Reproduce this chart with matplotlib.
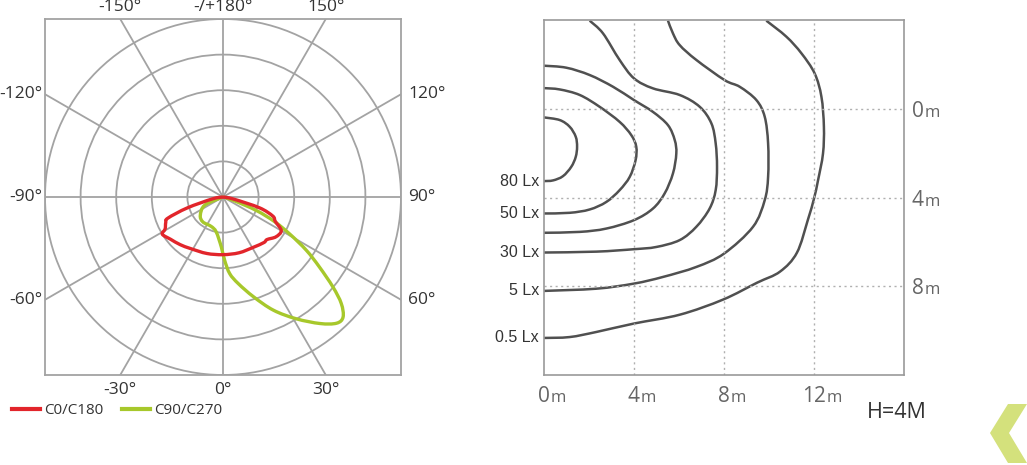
import numpy as np
import matplotlib.pyplot as plt
from matplotlib.patches import Circle, Polygon, PathPatch
from matplotlib.path import Path
from matplotlib.lines import Line2D

plt.rcParams['font.family'] = ['Open Sans', 'DejaVu Sans']

# polar photometric curves: angle in degrees (0 = straight down, + to the right),
# intensity in ring units (rings at 1..5)
c0_angle = [-90, -80, -73, -69, -66, -61, -58.5, -51, -42, -32, -16, 0, 16, 31, 42, 46, 53, 60, 65, 69, 73.5, 79, 90]
c0_r = [0, 0.3, 1.05, 1.66, 1.76, 1.86, 2.0, 1.89, 1.8, 1.71, 1.65, 1.62, 1.63, 1.65, 1.72, 1.72, 1.86, 1.89, 1.62, 1.5, 1.07, 0.3, 0]

c90_angle = [-72, -66, -51, -39, -22, -11, -2, 1.5, 5, 10, 17, 24, 31, 37.5, 42, 45, 48, 50.7, 54, 57.4, 61, 64.5, 68, 72, 90]
c90_r = [0, 0.56, 0.82, 0.90, 0.89, 1.0, 1.40, 1.78, 2.16, 2.47, 2.93, 3.48, 3.99, 4.48, 4.77, 4.77, 4.47, 3.99, 3.35, 2.78, 2.14, 1.6, 1.01, 0.3, 0]

ring_values = [1, 2, 3, 4, 5]
spoke_angles = [0, 30, 60, 90, 120, 150, 180, 210, 240, 270, 300, 330]
spoke_labels = ['0°', '30°', '60°', '90°', '120°', '150°', '-/+180°', '-150°', '-120°', '-90°', '-60°', '-30°']

# isolux lines (metres): x along road, y across
lux_labels = ['80 Lx', '50 Lx', '', '30 Lx', '5 Lx', '0.5 Lx']
iso_x = [
    [0, 0.70, 1.14, 1.41, 1.47, 1.41, 1.21, 0.84, 0.40, 0],
    [0, 0.70, 1.59, 2.47, 3.36, 3.88, 4.10, 4.07, 3.81, 3.36, 2.77, 2.03, 1.14, 0],
    [0, 0.99, 2.03, 3.07, 4.0, 4.84, 5.51, 5.81, 5.88, 5.73, 5.36, 4.84, 4.0, 2.77, 1.59, 0],
    [2.03, 2.62, 3.36, 4.0, 4.84, 6.03, 6.92, 7.44, 7.63, 7.69, 7.63, 7.36, 6.77, 6.03, 4.99, 4.0, 2.33, 0],
    [5.51, 5.73, 6.03, 6.77, 8.03, 8.70, 9.44, 9.81, 9.96, 9.96, 9.81, 9.29, 8.0, 6.77, 5.29, 4.0, 2.33, 0],
    [9.88, 10.77, 11.44, 12.03, 12.33, 12.44, 12.40, 12.18, 12.0, 11.73, 11.24, 10.49, 9.47, 7.96, 6.04, 4.0, 2.33, 1.14, 0],
]
iso_y = [
    [0.39, 0.51, 0.81, 1.26, 1.71, 2.17, 2.62, 3.04, 3.23, 3.26],
    [-0.93, -0.87, -0.62, -0.09, 0.59, 1.19, 1.71, 2.32, 3.07, 3.67, 4.20, 4.54, 4.69, 4.72],
    [-1.94, -1.85, -1.52, -0.99, -0.39, 0.14, 0.74, 1.41, 2.02, 2.92, 3.82, 4.50, 5.02, 5.40, 5.55, 5.59],
    [-3.97, -3.40, -2.20, -1.37, -0.92, -0.62, -0.09, 0.66, 1.56, 2.62, 3.67, 4.50, 5.32, 5.92, 6.23, 6.33, 6.44, 6.48],
    [-3.97, -3.40, -2.87, -2.20, -1.29, -0.99, -0.39, 0.36, 1.56, 3.07, 4.12, 5.32, 6.53, 7.13, 7.58, 7.88, 8.11, 8.21],
    [-3.97, -3.25, -2.50, -1.59, -0.54, 0.81, 2.02, 3.22, 4.05, 5.0, 6.49, 7.34, 7.84, 8.60, 9.28, 9.68, 10.06, 10.29, 10.33],
]
x_ticks = [0, 4, 8, 12]
y_ticks = [0, 4, 8]

red = '#e2252b'
green = '#a7c82b'
grid_gray = '#a3a3a3'
text_dark = '#333333'

W, H = 1027, 465
fig = plt.figure(figsize=(W / 100, H / 100), dpi=100)


def fig_box(x0, y0, x1, y1):
    return [x0 / W, 1 - y1 / H, (x1 - x0) / W, (y1 - y0) / H]


def smooth_path(x, y):
    # bezier curve through the read points (catmull-rom tangents)
    p = np.column_stack([x, y])
    n = len(p)
    verts = [p[0]]
    codes = [Path.MOVETO]
    for i in range(n - 1):
        p0 = p[i - 1] if i > 0 else p[i]
        p3 = p[i + 2] if i + 2 < n else p[i + 1]
        verts += [p[i] + (p[i + 1] - p0) / 6, p[i + 1] - (p3 - p[i]) / 6, p[i + 1]]
        codes += [Path.CURVE4] * 3
    return Path(verts, codes)


# ---- polar diagram ----
ax = fig.add_axes(fig_box(45, 19, 401, 375))
R = 5
ax.set_xlim(-R, R)
ax.set_ylim(-R, R)
ax.set_xticks([])
ax.set_yticks([])
for s in ax.spines.values():
    s.set_color(grid_gray)
    s.set_linewidth(1.3)

for v in ring_values:
    ax.add_patch(Circle((0, 0), v, fill=False, ec=grid_gray, lw=1.3))

for a, lab in zip(spoke_angles, spoke_labels):
    t = np.radians(a)
    dx, dy = np.sin(t), -np.cos(t)
    k = R / max(abs(dx), abs(dy))
    ex, ey = k * dx, k * dy
    ax.plot([0, ex], [0, ey], color=grid_gray, lw=1.3)
    if abs(dy) > abs(dx):
        if ey > 0:
            off, ha, va = (0, 4), 'center', 'bottom'
        else:
            off, ha, va = (0, -7), 'center', 'top'
    else:
        if ex > 0:
            off, ha, va = (7, 0), 'left', 'center'
        else:
            off, ha, va = (-3, 0), 'right', 'center'
    ax.annotate(lab, (ex, ey), xytext=off, textcoords='offset pixels',
                ha=ha, va=va, fontsize=12.5, color=text_dark, annotation_clip=False)


def polar_xy(angles, rs):
    t = np.radians(angles)
    r = np.array(rs)
    return r * np.sin(t), -r * np.cos(t)


x, y = polar_xy(c0_angle, c0_r)
ax.add_patch(PathPatch(smooth_path(x, y), fill=False, ec=red, lw=2.4,
                       joinstyle='round', zorder=5))
x, y = polar_xy(c90_angle, c90_r)
ax.add_patch(PathPatch(smooth_path(x, y), fill=False, ec=green, lw=2.4,
                       joinstyle='round', zorder=4))

handles = [Line2D([], [], color=red, lw=3), Line2D([], [], color=green, lw=3)]
fig.legend(handles, ['C0/C180', 'C90/C270'], loc='upper left',
           bbox_to_anchor=(12 / W, 1 - 403 / H), ncol=2, frameon=False,
           fontsize=11, handlelength=1.85, handletextpad=0.25, columnspacing=1.2,
           borderpad=0, borderaxespad=0, labelcolor=text_dark)

# ---- isolux diagram ----
ax2 = fig.add_axes(fig_box(544, 20, 904, 375))
ax2.set_xlim(0, 16)
ax2.set_ylim(12, -4)
ax2.set_xticks([])
ax2.set_yticks([])
for s in ax2.spines.values():
    s.set_color('#9a9a9a')
    s.set_linewidth(1.2)
for v in x_ticks[1:]:
    ax2.axvline(v, color='#b0b0b0', lw=1, ls=(0, (1.5, 2.5)))
for v in y_ticks:
    ax2.axhline(v, color='#b0b0b0', lw=1, ls=(0, (1.5, 2.5)))

for xs, ys, lab in zip(iso_x, iso_y, lux_labels):
    ax2.add_patch(PathPatch(smooth_path(xs, ys), fill=False, ec='#505050', lw=1.8,
                            joinstyle='round', capstyle='butt'))
    if lab:
        ax2.annotate(lab, (0, ys[-1]), xytext=(-5, 0), textcoords='offset pixels',
                     ha='right', va='center', fontsize=11.5, color=text_dark,
                     family=['Liberation Sans', 'DejaVu Sans'], annotation_clip=False)

for v in x_ticks:
    s = str(v)
    half = 6 * len(s)
    ax2.annotate(s, (v, 12), xytext=(0, -27), textcoords='offset pixels',
                 ha='center', va='baseline', fontsize=15, color='#666666', annotation_clip=False)
    ax2.annotate('m', (v, 12), xytext=(half + 1, -27), textcoords='offset pixels',
                 ha='left', va='baseline', fontsize=12, color='#666666', annotation_clip=False)

for v in y_ticks:
    ax2.annotate(str(v), (16, v), xytext=(8, -8), textcoords='offset pixels',
                 ha='left', va='baseline', fontsize=15, color='#666666', annotation_clip=False)
    ax2.annotate('m', (16, v), xytext=(21, -8), textcoords='offset pixels',
                 ha='left', va='baseline', fontsize=12, color='#666666', annotation_clip=False)

fig.text(867 / W, 1 - 418 / H, 'H=4M', fontsize=15.5, va='baseline', color=text_dark)

# chevron decoration
chev = [(1008, 404), (1027, 404), (1009, 433), (1027, 463), (1008, 463), (990, 433)]
fig.patches.append(Polygon([(px / W, 1 - py / H) for px, py in chev], closed=True,
                           transform=fig.transFigure, fc='#d4e17c', ec='none'))

fig.savefig('out.png', dpi=100)
